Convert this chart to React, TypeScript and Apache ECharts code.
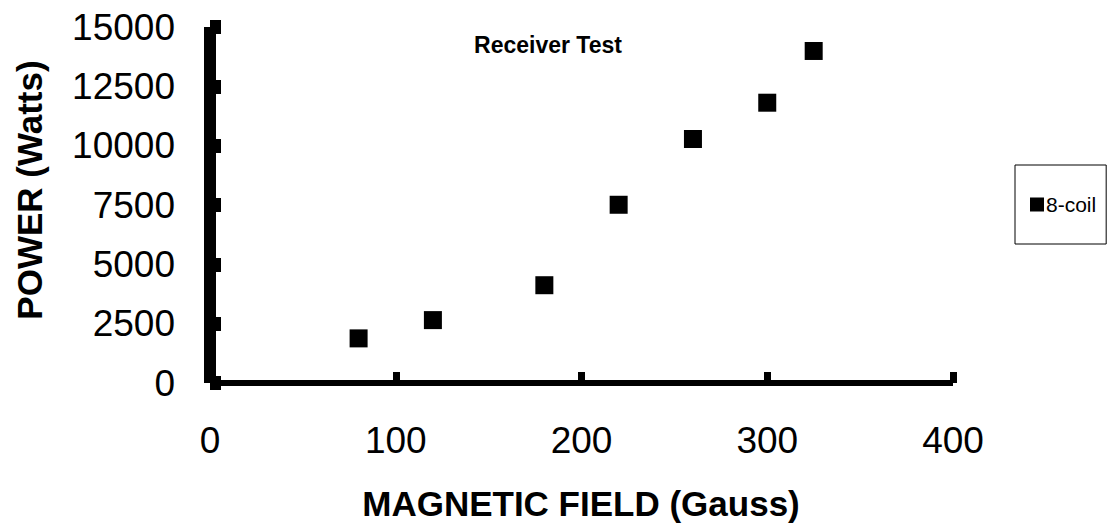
import React, { useEffect, useRef } from "react";
import * as echarts from "echarts";

const fieldGauss = [80, 120, 180, 220, 260, 300, 325];
const powerWatts = [1880, 2650, 4120, 7510, 10280, 11810, 13990];
const seriesName = "8-coil";
const chartTitle = "Receiver Test";
const xTitle = "MAGNETIC FIELD (Gauss)";
const yTitle = "POWER (Watts)";

const FONT = "'Liberation Sans', Arial, Helvetica, sans-serif";

export default function App() {
  const ref = useRef<HTMLDivElement>(null);
  useEffect(() => {
    document.body.style.margin = "0";
    if (!ref.current) return;
    const chart = echarts.init(ref.current, undefined, { renderer: "svg" });
    const data = fieldGauss.map((x, i) => [x, powerWatts[i]]);
    chart.setOption({
      animation: false,
      backgroundColor: "#ffffff",
      grid: { left: 210, right: 159, top: 27, bottom: 140 },
      xAxis: {
        type: "value",
        min: 0,
        max: 400,
        interval: 100,
        axisLine: { show: true, onZero: false, lineStyle: { color: "#000", width: 6, cap: "butt" } },
        axisTick: { show: true, inside: true, length: 11, lineStyle: { color: "#000", width: 7 } },
        axisLabel: { fontSize: 37, color: "#000", margin: 39, fontFamily: FONT, formatter: (v: number) => String(v) },
        splitLine: { show: false },
      },
      yAxis: {
        type: "value",
        min: 0,
        max: 15000,
        interval: 2500,
        axisLine: { show: true, onZero: false, lineStyle: { color: "#000", width: 12, cap: "butt" } },
        axisTick: { show: true, inside: true, length: 11, lineStyle: { color: "#000", width: 14 } },
        axisLabel: { fontSize: 37, color: "#000", margin: 35, fontFamily: FONT, formatter: (v: number) => String(v) },
        splitLine: { show: false },
      },
      legend: {
        left: 1015,
        top: 165,
        orient: "vertical",
        borderColor: "#000",
        borderWidth: 1,
        padding: [29, 10, 29, 15],
        itemWidth: 14,
        itemHeight: 14,
        itemGap: 0,
        icon: "rect",
        textStyle: { fontSize: 21, color: "#000", fontFamily: FONT, padding: [3, 0, 0, -3] },
        data: [seriesName],
      },
      graphic: [
        {
          type: "text",
          x: 548,
          y: 45,
          style: { text: chartTitle, font: `bold 23px ${FONT}`, fill: "#000", align: "center", verticalAlign: "middle" },
        },
        {
          type: "text",
          x: 581,
          y: 503,
          style: { text: xTitle, font: `bold 35px ${FONT}`, fill: "#000", align: "center", verticalAlign: "middle" },
        },
        {
          type: "text",
          x: 29,
          y: 190,
          rotation: Math.PI / 2,
          style: { text: yTitle, font: `bold 35px ${FONT}`, fill: "#000", align: "center", verticalAlign: "middle" },
        },
      ],
      series: [
        {
          name: seriesName,
          type: "scatter",
          symbol: "rect",
          symbolSize: 18,
          itemStyle: { color: "#000", opacity: 1 },
          data,
        },
      ],
    });
    return () => chart.dispose();
  }, []);
  return <div ref={ref} style={{ position: "absolute", left: 0, top: 0, width: 1112, height: 523 }} />;
}
